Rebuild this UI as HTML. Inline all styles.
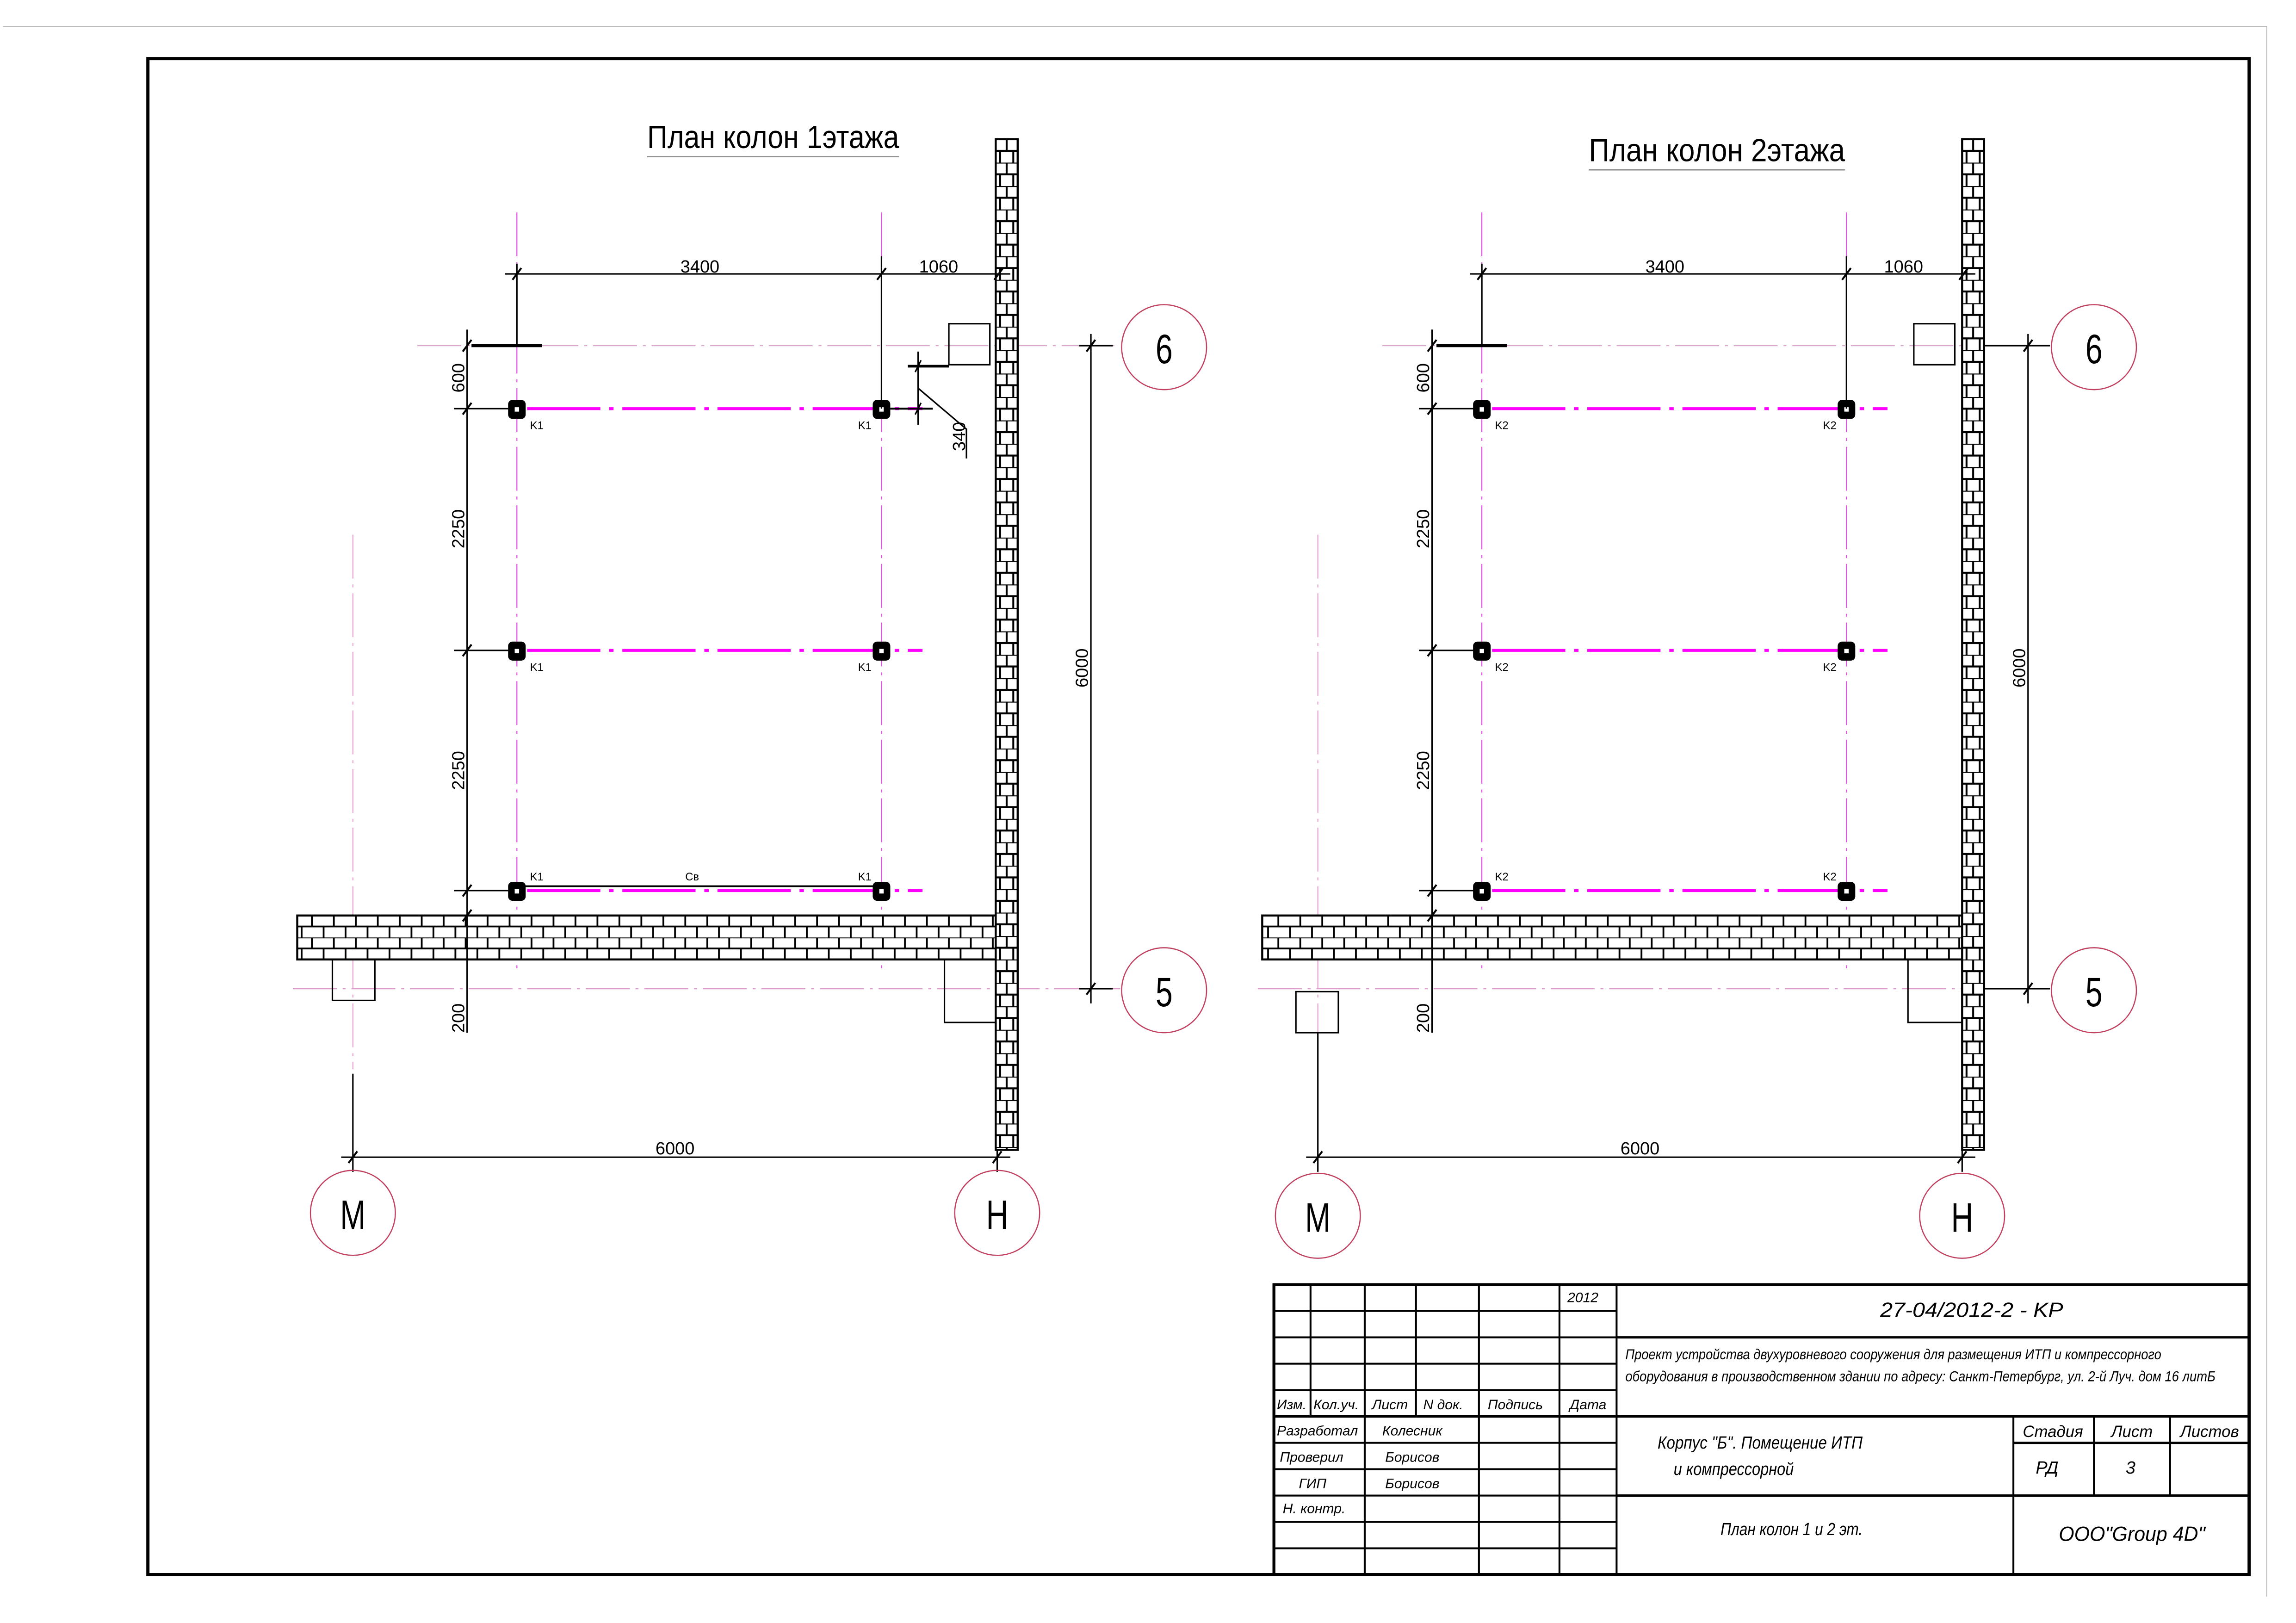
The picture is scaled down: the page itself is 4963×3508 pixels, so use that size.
<!DOCTYPE html>
<html><head><meta charset="utf-8">
<style>
html,body{margin:0;padding:0;background:#fff;}
svg{display:block;}
text{font-family:"Liberation Sans Narrow","Liberation Sans",sans-serif;}
.t{font-style:italic;font-size:9.5px;fill:#000;}
.d{font-size:12px;fill:#000;}
.b{font-size:28px;fill:#000;}
.k{font-size:7.5px;fill:#000;}
</style></head>
<body>
<svg width="4963" height="3508" viewBox="0 0 1568 1108" preserveAspectRatio="none" xmlns="http://www.w3.org/2000/svg">
<defs>
<pattern id="bv" x="680" y="95" width="15" height="16" patternUnits="userSpaceOnUse">
<rect width="15" height="16" fill="#fff"/>
<path d="M0 0H15M0 8H15M7.5 0V8M3 8V16M12 8V16" stroke="#000" stroke-width="1.3"/>
</pattern>
<pattern id="bh" x="203" y="625" width="30" height="15" patternUnits="userSpaceOnUse">
<rect width="30" height="15" fill="#fff"/>
<path d="M0 0H30M0 7.5H30M10 0V7.5M25 0V7.5M3 7.5V15M18 7.5V15" stroke="#000" stroke-width="1.2"/>
</pattern>
</defs>
<rect width="1568" height="1108" fill="#fff"/>
<path d="M2 18H1548V1090" fill="none" stroke="#bbb" stroke-width="0.6"/>
<rect x="101" y="40" width="1435" height="1035" fill="none" stroke="#000" stroke-width="2.2"/>

<!-- PLAN 1 -->
<g>
<text x="442" y="101" textLength="172" lengthAdjust="spacingAndGlyphs" style="font-size:22px">План колон 1этажа</text>
<line x1="442" y1="107" x2="614" y2="107" stroke="#888" stroke-width="0.8"/>
<g stroke-width="0.7" fill="none">
<line x1="353" y1="145" x2="353" y2="665" stroke="#e050e0" stroke-dasharray="30 4 2 4"/>
<line x1="602" y1="145" x2="602" y2="665" stroke="#e050e0" stroke-dasharray="30 4 2 4"/>
<line x1="285" y1="236" x2="765" y2="236" stroke="#d8a0c8" stroke-dasharray="30 4 2 4"/>
<line x1="200" y1="675" x2="765" y2="675" stroke="#d8a0c8" stroke-dasharray="30 4 2 4"/>
<line x1="241" y1="365" x2="241" y2="730" stroke="#e8a0d0" stroke-dasharray="30 4 2 4"/>
</g>
<rect x="203" y="625" width="492" height="30" fill="url(#bh)" stroke="#000" stroke-width="1.4"/>
<rect x="680" y="95" width="15" height="690" fill="url(#bv)" stroke="#000" stroke-width="1.4"/>
<g stroke="#ff00ff" stroke-width="2" stroke-dasharray="50 6 3 6">
<line x1="360" y1="279" x2="630" y2="279"/><line x1="360" y1="444" x2="630" y2="444"/><line x1="360" y1="608" x2="630" y2="608"/>
</g>
<line x1="358" y1="605" x2="598" y2="605" stroke="#000" stroke-width="1.2"/>
<g fill="#000">
<rect x="347" y="273" width="12" height="13" rx="3"/><rect x="596" y="273" width="12" height="13" rx="3"/>
<rect x="347" y="438" width="12" height="13" rx="3"/><rect x="596" y="438" width="12" height="13" rx="3"/>
<rect x="347" y="602" width="12" height="13" rx="3"/><rect x="596" y="602" width="12" height="13" rx="3"/>
</g>
<g fill="#fff"><rect x="351.5" y="278" width="3" height="3"/><rect x="600.5" y="278" width="3" height="3"/><rect x="351.5" y="443" width="3" height="3"/><rect x="600.5" y="443" width="3" height="3"/><rect x="351.5" y="607" width="3" height="3"/><rect x="600.5" y="607" width="3" height="3"/></g>
<text class="k" x="362" y="293">K1</text><text class="k" x="586" y="293">K1</text>
<text class="k" x="362" y="458">K1</text><text class="k" x="586" y="458">K1</text>
<text class="k" x="362" y="601">K1</text><text class="k" x="586" y="601">K1</text><text class="k" x="468" y="601">Св</text>
<g stroke="#000" stroke-width="1" fill="none">
<line x1="345" y1="187" x2="690" y2="187"/>
<line x1="353" y1="180" x2="353" y2="236"/><line x1="602" y1="175" x2="602" y2="279"/>
<line x1="322" y1="236" x2="370" y2="236" stroke-width="2"/>
<line x1="319" y1="225" x2="319" y2="705"/>
<line x1="310" y1="279" x2="348" y2="279"/><line x1="310" y1="444" x2="348" y2="444"/><line x1="310" y1="608" x2="348" y2="608"/>
<line x1="310" y1="625" x2="330" y2="625"/>
<line x1="745" y1="228" x2="745" y2="685"/>
<line x1="737" y1="236" x2="760" y2="236"/><line x1="737" y1="675" x2="760" y2="675"/>
<line x1="233" y1="790" x2="690" y2="790"/>
<line x1="241" y1="733" x2="241" y2="800"/><line x1="681" y1="785" x2="681" y2="800"/>
<path d="M350 191L356 183M599 191L605 183M679 191L685 183M316 240L322 232M316 283L322 275M316 448L322 440M316 612L322 604M316 629L322 621M742 240L748 232M742 679L748 671M238 794L244 786M678 794L684 786" stroke-width="1.3"/>
<rect x="648" y="221" width="28" height="28"/>
<rect x="227" y="655" width="29" height="28"/>
<path d="M645 655V698H680"/>
<line x1="627" y1="240" x2="627" y2="290"/>
<line x1="620" y1="250" x2="648" y2="250" stroke-width="1.8"/>
<line x1="608" y1="279" x2="637" y2="279" stroke-width="1.3"/>
<path d="M625 254L629 246M625 283L629 275"/>
<path d="M627 265L660 293V313"/>
</g>
<text class="d" x="478" y="186" text-anchor="middle">3400</text>
<text class="d" x="641" y="186" text-anchor="middle">1060</text>
<text class="d" transform="translate(317,258) rotate(-90)" text-anchor="middle">600</text>
<text class="d" transform="translate(317,361) rotate(-90)" text-anchor="middle">2250</text>
<text class="d" transform="translate(317,526) rotate(-90)" text-anchor="middle">2250</text>
<text class="d" transform="translate(317,695) rotate(-90)" text-anchor="middle">200</text>
<text class="d" transform="translate(743,456) rotate(-90)" text-anchor="middle">6000</text>
<text class="d" transform="translate(659,298) rotate(-90)" text-anchor="middle">340</text>
<text class="d" x="461" y="788" text-anchor="middle">6000</text>
<g fill="none" stroke="#c04060" stroke-width="0.8">
<circle cx="795" cy="237" r="29"/><circle cx="795" cy="676" r="29"/><circle cx="241" cy="828" r="29"/><circle cx="681" cy="828" r="29"/>
</g>
<text class="b" transform="translate(795,248) scale(0.75,1)" text-anchor="middle">6</text>
<text class="b" transform="translate(795,687) scale(0.75,1)" text-anchor="middle">5</text>
<text class="b" transform="translate(241,839) scale(0.75,1)" text-anchor="middle">M</text>
<text class="b" transform="translate(681,839) scale(0.75,1)" text-anchor="middle">H</text>
</g>

<!-- PLAN 2 -->
<g>
<text x="1085" y="110" textLength="175" lengthAdjust="spacingAndGlyphs" style="font-size:22px">План колон 2этажа</text>
<line x1="1085" y1="116" x2="1260" y2="116" stroke="#888" stroke-width="0.8"/>
<g stroke-width="0.7" fill="none">
<line x1="1012" y1="145" x2="1012" y2="665" stroke="#e050e0" stroke-dasharray="30 4 2 4"/>
<line x1="1261" y1="145" x2="1261" y2="665" stroke="#e050e0" stroke-dasharray="30 4 2 4"/>
<line x1="944" y1="236" x2="1400" y2="236" stroke="#d8a0c8" stroke-dasharray="30 4 2 4"/>
<line x1="859" y1="675" x2="1400" y2="675" stroke="#d8a0c8" stroke-dasharray="30 4 2 4"/>
<line x1="900" y1="365" x2="900" y2="730" stroke="#e8a0d0" stroke-dasharray="30 4 2 4"/>
</g>
<rect x="862" y="625" width="492" height="30" fill="url(#bh)" stroke="#000" stroke-width="1.4"/>
<rect x="1340" y="95" width="15" height="690" fill="url(#bv)" stroke="#000" stroke-width="1.4"/>
<g stroke="#ff00ff" stroke-width="2" stroke-dasharray="50 6 3 6">
<line x1="1019" y1="279" x2="1289" y2="279"/><line x1="1019" y1="444" x2="1289" y2="444"/><line x1="1019" y1="608" x2="1289" y2="608"/>
</g>
<g fill="#000">
<rect x="1006" y="273" width="12" height="13" rx="3"/><rect x="1255" y="273" width="12" height="13" rx="3"/>
<rect x="1006" y="438" width="12" height="13" rx="3"/><rect x="1255" y="438" width="12" height="13" rx="3"/>
<rect x="1006" y="602" width="12" height="13" rx="3"/><rect x="1255" y="602" width="12" height="13" rx="3"/>
</g>
<g fill="#fff"><rect x="1010.5" y="278" width="3" height="3"/><rect x="1259.5" y="278" width="3" height="3"/><rect x="1010.5" y="443" width="3" height="3"/><rect x="1259.5" y="443" width="3" height="3"/><rect x="1010.5" y="607" width="3" height="3"/><rect x="1259.5" y="607" width="3" height="3"/></g>
<text class="k" x="1021" y="293">K2</text><text class="k" x="1245" y="293">K2</text>
<text class="k" x="1021" y="458">K2</text><text class="k" x="1245" y="458">K2</text>
<text class="k" x="1021" y="601">K2</text><text class="k" x="1245" y="601">K2</text>
<g stroke="#000" stroke-width="1" fill="none">
<line x1="1004" y1="187" x2="1349" y2="187"/>
<line x1="1012" y1="180" x2="1012" y2="236"/><line x1="1261" y1="175" x2="1261" y2="279"/>
<line x1="981" y1="236" x2="1029" y2="236" stroke-width="2"/>
<line x1="978" y1="225" x2="978" y2="705"/>
<line x1="969" y1="279" x2="1007" y2="279"/><line x1="969" y1="444" x2="1007" y2="444"/><line x1="969" y1="608" x2="1007" y2="608"/>
<line x1="969" y1="625" x2="989" y2="625"/>
<line x1="1385" y1="228" x2="1385" y2="685"/>
<line x1="1355" y1="236" x2="1400" y2="236"/><line x1="1355" y1="675" x2="1400" y2="675"/>
<line x1="892" y1="790" x2="1349" y2="790"/>
<line x1="900" y1="705" x2="900" y2="800"/><line x1="1340" y1="785" x2="1340" y2="800"/>
<path d="M1009 191L1015 183M1258 191L1264 183M1338 191L1344 183M975 240L981 232M975 283L981 275M975 448L981 440M975 612L981 604M975 629L981 621M1382 240L1388 232M1382 679L1388 671M897 794L903 786M1337 794L1343 786" stroke-width="1.3"/>
<rect x="1307" y="221" width="28" height="28"/>
<rect x="885" y="677" width="29" height="28"/>
<path d="M1303 655V698H1340"/>
</g>
<text class="d" x="1137" y="186" text-anchor="middle">3400</text>
<text class="d" x="1300" y="186" text-anchor="middle">1060</text>
<text class="d" transform="translate(976,258) rotate(-90)" text-anchor="middle">600</text>
<text class="d" transform="translate(976,361) rotate(-90)" text-anchor="middle">2250</text>
<text class="d" transform="translate(976,526) rotate(-90)" text-anchor="middle">2250</text>
<text class="d" transform="translate(976,695) rotate(-90)" text-anchor="middle">200</text>
<text class="d" transform="translate(1383,456) rotate(-90)" text-anchor="middle">6000</text>
<text class="d" x="1120" y="788" text-anchor="middle">6000</text>
<g fill="none" stroke="#c04060" stroke-width="0.8">
<circle cx="1430" cy="237" r="29"/><circle cx="1430" cy="676" r="29"/><circle cx="900" cy="830" r="29"/><circle cx="1340" cy="830" r="29"/>
</g>
<text class="b" transform="translate(1430,248) scale(0.75,1)" text-anchor="middle">6</text>
<text class="b" transform="translate(1430,687) scale(0.75,1)" text-anchor="middle">5</text>
<text class="b" transform="translate(900,841) scale(0.75,1)" text-anchor="middle">M</text>
<text class="b" transform="translate(1340,841) scale(0.75,1)" text-anchor="middle">H</text>
</g>

<!-- TITLE BLOCK -->
<g stroke="#000" fill="none">
<rect x="870" y="877" width="666" height="198" stroke-width="2"/>
<path d="M870 895H1104M870 913H1104M870 931H1104M870 949H1104M870 985H1104M870 1003H1104M870 1021H1104M870 1039H1104M870 1057H1104" stroke-width="1.3"/>
<path d="M870 967H1536M1104 913H1536M1104 1021H1536M1375 985H1536" stroke-width="1.6"/>
<path d="M1104 877V1075M895 877V967M932 877V1075M967 877V967M1010 877V1075M1065 877V1075M1375 967V1075M1430 967V1021M1482 967V1021" stroke-width="1.3"/>
</g>
<text class="t" x="1081" y="889" text-anchor="middle">2012</text>
<text class="t" x="1284" y="899" textLength="125" lengthAdjust="spacingAndGlyphs" style="font-size:14px">27-04/2012-2 - KP</text>
<text class="t" x="1110" y="928" textLength="366" lengthAdjust="spacingAndGlyphs" style="font-size:10px">Проект устройства двухуровневого сооружения для размещения ИТП и компрессорного</text>
<text class="t" x="1110" y="943" textLength="403" lengthAdjust="spacingAndGlyphs" style="font-size:10px">оборудования в производственном здании по адресу: Санкт-Петербург, ул. 2-й Луч. дом 16 литБ</text>
<text class="t" x="872" y="962">Изм.</text><text class="t" x="897" y="962">Кол.уч.</text><text class="t" x="937" y="962">Лист</text><text class="t" x="972" y="962">N док.</text><text class="t" x="1016" y="962">Подпись</text><text class="t" x="1072" y="962">Дата</text>
<text class="t" x="872" y="980">Разработал</text><text class="t" x="944" y="980">Колесник</text>
<text class="t" x="874" y="998">Проверил</text><text class="t" x="946" y="998">Борисов</text>
<text class="t" x="887" y="1016">ГИП</text><text class="t" x="946" y="1016">Борисов</text>
<text class="t" x="876" y="1033">Н. контр.</text>
<text class="t" x="1132" y="989" textLength="140" lengthAdjust="spacingAndGlyphs" style="font-size:12px">Корпус "Б". Помещение ИТП</text>
<text class="t" x="1143" y="1007" textLength="82" lengthAdjust="spacingAndGlyphs" style="font-size:12px">и компрессорной</text>
<text class="t" x="1175" y="1048" textLength="97" lengthAdjust="spacingAndGlyphs" style="font-size:12px">План колон 1 и 2 эт.</text>
<text class="t" x="1402" y="981" text-anchor="middle" style="font-size:11px">Стадия</text>
<text class="t" x="1456" y="981" text-anchor="middle" style="font-size:11px">Лист</text>
<text class="t" x="1509" y="981" text-anchor="middle" style="font-size:11px">Листов</text>
<text class="t" x="1398" y="1006" text-anchor="middle" style="font-size:12px">РД</text>
<text class="t" x="1455" y="1006" text-anchor="middle" style="font-size:12px">3</text>
<text class="t" x="1406" y="1052" textLength="100" lengthAdjust="spacingAndGlyphs" style="font-size:14px">ООО"Group 4D"</text>
</svg>
</body></html>
